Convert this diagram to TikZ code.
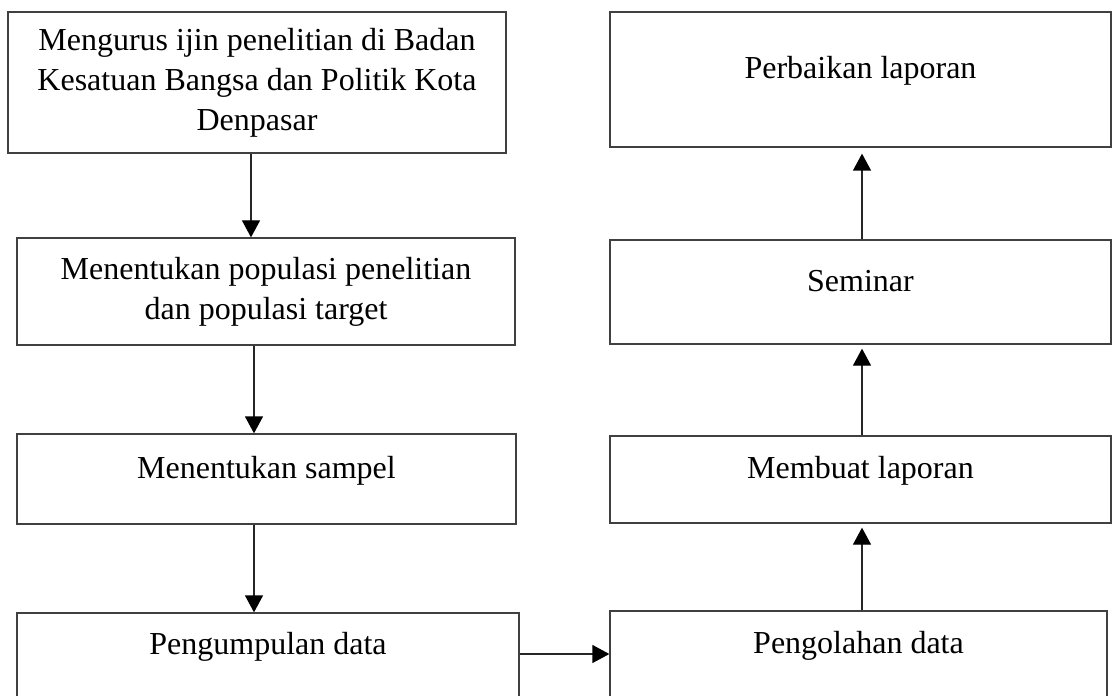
\documentclass[tikz,border=0pt]{standalone}
\usepackage{fontspec}
\setmainfont{Liberation Serif}
\usetikzlibrary{arrows.meta}
\begin{document}
\begin{tikzpicture}[x=0.5pt,y=-0.5pt,line width=0.65pt,
        box/.style={draw=black!75,inner sep=0pt,align=center,font=\fontsize{16pt}{20pt}\selectfont},
        oneline/.style={box,text height=10.5pt,text depth=11.5pt},
        flow/.style={draw=black!85,-{Triangle[width=9pt,length=8.5pt,color=black]}}]
        \useasboundingbox(0,0)rectangle(1112,695);\clip(0,0)rectangle(1112,695);
        % left column
        \node[box,minimum width=249pt,minimum height=70.5pt](ijin)at(257,82.5){Mengurus ijin penelitian di Badan\\Kesatuan Bangsa dan Politik Kota\\Denpasar};
        \node[box,minimum width=249pt,minimum height=53.5pt](populasi)at(266,291.5){Menentukan populasi penelitian\\dan populasi target};
        \node[oneline,minimum width=249.5pt,minimum height=45pt](sampel)at(266.5,479){Menentukan sampel};
        \node[oneline,minimum width=251pt,minimum height=42pt](kumpul)at(268,655){Pengumpulan data};
        % right column
        \node[oneline,minimum width=248.5pt,minimum height=43pt](olah)at(858.5,654){Pengolahan data};
        \node[oneline,minimum width=250.5pt,minimum height=43.5pt](laporan)at(860.5,479.5){Membuat laporan};
        \node[oneline,minimum width=250.5pt,minimum height=52pt](seminar)at(860.5,292){Seminar};
        \node[oneline,minimum width=250.5pt,minimum height=67.5pt](perbaikan)at(860.5,79.5){Perbaikan laporan};
        \coordinate(colA)at(251,0);\coordinate(colB)at(254,0);\coordinate(colR)at(862,0);
        \draw[flow](ijin.south-|colA)--(populasi.north-|colA);
        \draw[flow](populasi.south-|colB)--(sampel.north-|colB);
        \draw[flow](sampel.south-|colB)--(kumpul.north-|colB);
        \draw[flow](kumpul.east|-olah.west)--(olah.west);
        \draw[flow,shorten >=2pt](olah.north-|colR)--(laporan.south-|colR);
        \draw[flow,shorten >=2pt](laporan.north-|colR)--(seminar.south-|colR);
        \draw[flow,shorten >=3pt](seminar.north-|colR)--(perbaikan.south-|colR);
    \end{tikzpicture}
\end{document}
